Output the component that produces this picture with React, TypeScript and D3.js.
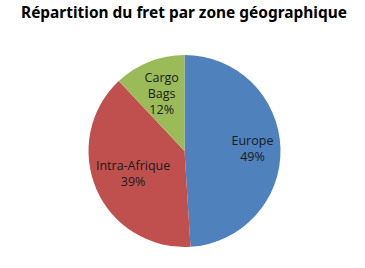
import React from "react";
import * as d3 from "d3";

const categories = ["Europe", "Intra-Afrique", "Cargo Bags"];
const values = [49, 39, 12];
const labelLines = [["Europe", "49%"], ["Intra-Afrique", "39%"], ["Cargo", "Bags", "12%"]];
const colors = ["#4F81BD", "#C0504D", "#9BBB59"];
const title = "Répartition du fret par zone géographique";

export default function App() {
  const W = 365, H = 268;
  const cx = 184.5, cy = 151, R = 96;
  const labelRadii = [68, 56, 62];
  const pie = d3.pie<number>().sort(null).value((d) => d);
  const arcs = pie(values);
  const arc = d3.arc<d3.PieArcDatum<number>>().innerRadius(0).outerRadius(R);
  const lh = 16;
  return (
    <svg width={W} height={H} style={{ position: "absolute", left: 0, top: 0, background: "#fff" }}>
      <text x={184} y={18} textAnchor="middle" fontFamily="Noto Sans, sans-serif" fontWeight="bold" fontSize={16}
        textLength={326} lengthAdjust="spacingAndGlyphs" fill="#000">{title}</text>
      <g transform={`translate(${cx},${cy})`}>
        {arcs.map((a, i) => (
          <path key={categories[i]} d={arc(a) || ""} fill={colors[i]} />
        ))}
        {arcs.map((a, i) => {
          const la = d3.arc<d3.PieArcDatum<number>>().innerRadius(labelRadii[i]).outerRadius(labelRadii[i]);
          const [x, y] = la.centroid(a);
          const lines = labelLines[i];
          const y0 = y - ((lines.length - 1) * lh) / 2;
          return (
            <text key={"l" + i} x={x} textAnchor="middle" fontFamily="Open Sans, sans-serif" fontSize={12.5} fill="#1a1a1a">
              {lines.map((t, j) => (
                <tspan key={j} x={x} y={y0 + j * lh} dy="0.35em">{t}</tspan>
              ))}
            </text>
          );
        })}
      </g>
    </svg>
  );
}
